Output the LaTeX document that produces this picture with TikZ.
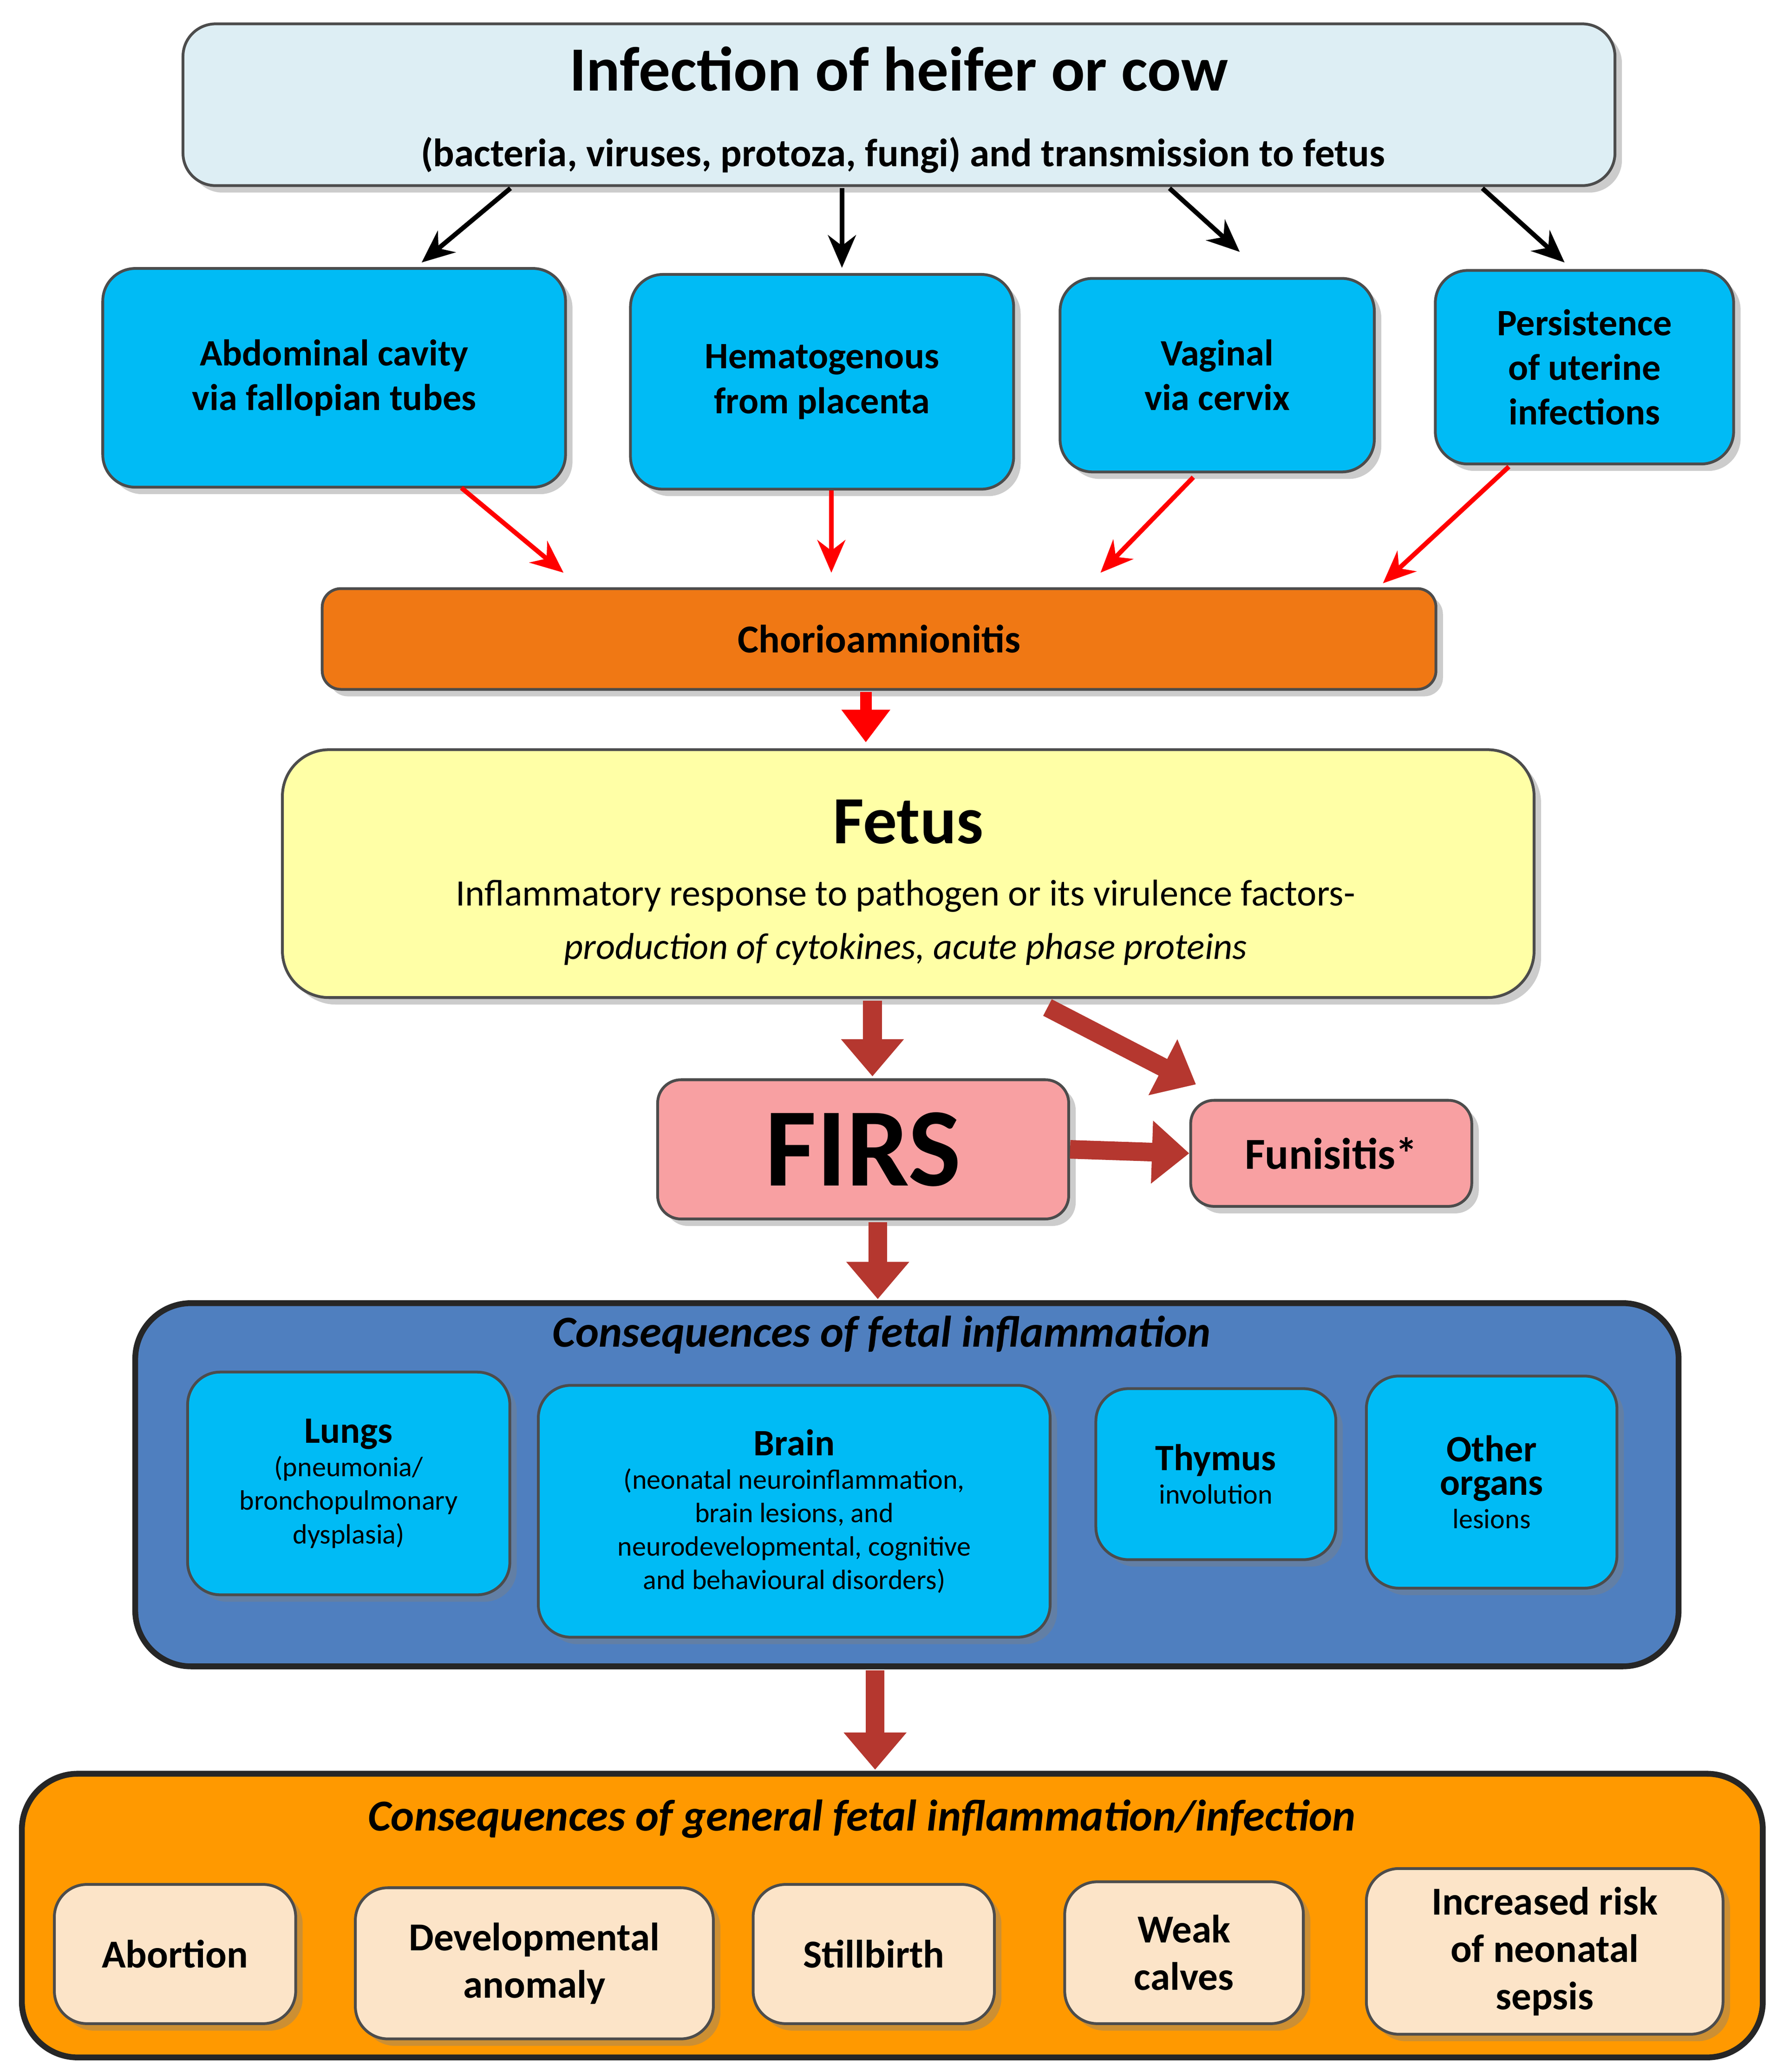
\documentclass[tikz,border=0pt]{standalone}
\usepackage{fontspec}
\setmainfont{Carlito}
\usetikzlibrary{arrows.meta,shadows}
\definecolor{topb}{HTML}{DDEEF4}
\definecolor{cyanb}{HTML}{00BBF5}
\definecolor{orb}{HTML}{F07814}
\definecolor{yelb}{HTML}{FFFFA6}
\definecolor{pinkb}{HTML}{F8A0A2}
\definecolor{darkr}{HTML}{B5372F}
\definecolor{contb}{HTML}{4F7FBF}
\definecolor{conto}{HTML}{FF9900}
\definecolor{peach}{HTML}{FCE4C8}
\newcommand{\fs}[1]{\fontsize{#1pt}{1.2\dimexpr#1pt\relax}\selectfont}
\tikzset{
 box/.style={draw=black!70,line width=1.2pt,rounded corners=14pt,drop shadow={opacity=0.4,shadow xshift=3pt,shadow yshift=-3pt},align=center,font=\bfseries},
 blk/.style={-{Stealth[length=14pt,width=12pt]},line width=2pt,black},
 redarr/.style={-{Stealth[length=14pt,width=12pt]},line width=2pt,red},
 fat/.style={-{Triangle[length=16pt,width=26pt]},line width=8pt,darkr},
}
\begin{document}
\begin{tikzpicture}[x=0.02cm,y=-0.02cm]
\useasboundingbox (0,0) rectangle (1340,1563);
% top
\node[box,fill=topb,minimum width=1080*0.02cm,minimum height=122*0.02cm] (top) at (678,79) {};
\node[font=\bfseries\fs{27}] (tt) at (678,52) {Infection of heifer or cow};
\node[font=\bfseries\fs{17}] (ts) at (681,117) {(bacteria, viruses, protoza, fungi) and transmission to fetus};
% four boxes
\node[box,fill=cyanb,minimum width=349*0.02cm,minimum height=165*0.02cm,font=\bfseries\fs{16}] (a) at (252,285) {Abdominal cavity\\via fallopian tubes};
\node[box,fill=cyanb,minimum width=289*0.02cm,minimum height=162*0.02cm,font=\bfseries\fs{16}] (b) at (620,288) {Hematogenous\\from placenta};
\node[box,fill=cyanb,minimum width=237*0.02cm,minimum height=146*0.02cm,font=\bfseries\fs{16}] (c) at (918,283) {Vaginal\\via cervix};
\node[box,fill=cyanb,minimum width=225*0.02cm,minimum height=146*0.02cm,font=\bfseries\fs{16}] (d) at (1195,277) {Persistence\\of uterine\\infections};
\coordinate (t1) at (385,142); \coordinate (e1) at (318,198);
\coordinate (t2) at (635,142); \coordinate (e2) at (635,202);
\coordinate (t3) at (882,142); \coordinate (e3) at (935,190);
\coordinate (t4) at (1118,142); \coordinate (e4) at (1180,198);
\draw[blk] (t1)--(e1); \draw[blk] (t2)--(e2); \draw[blk] (t3)--(e3); \draw[blk] (t4)--(e4);
% chorio
\node[box,fill=orb,rounded corners=8pt,minimum width=840*0.02cm,minimum height=76*0.02cm,font=\bfseries\fs{17}] (ch) at (663,482) {Chorioamnionitis};
\coordinate (r1) at (348,368); \coordinate (f1) at (425,432);
\coordinate (r2) at (627,370); \coordinate (f2) at (627,432);
\coordinate (r3) at (900,360); \coordinate (f3) at (830,432);
\coordinate (r4) at (1138,352); \coordinate (f4) at (1043,440);
\draw[redarr] (r1)--(f1); \draw[redarr] (r2)--(f2); \draw[redarr] (r3)--(f3); \draw[redarr] (r4)--(f4);
% fetus
\node[box,fill=yelb,rounded corners=20pt,minimum width=944*0.02cm,minimum height=187*0.02cm] (fe) at (685,659) {};
\node[font=\bfseries\fs{29}] (ft) at (685,620) {Fetus};
\node[font=\fs{16}] (fl1) at (683,676) {Inflammatory response to pathogen or its virulence factors-};
\node[font=\itshape\fs{16}] (fl2) at (683,716) {production of cytokines, acute phase proteins};
\coordinate (cs) at (653,522); \coordinate (ce) at (653,560);
\draw[-{Triangle[length=14pt,width=20pt]},line width=5pt,red] (cs)--(ce);
% FIRS
\node[box,fill=pinkb,rounded corners=10pt,minimum width=310*0.02cm,minimum height=105*0.02cm,font=\bfseries\fs{48}] (firs) at (651,867) {FIRS};
\node[box,fill=pinkb,rounded corners=10pt,minimum width=212*0.02cm,minimum height=80*0.02cm,font=\bfseries\fs{19}] (fun) at (1004,870) {Funisitis*};
\coordinate (p1) at (658,755); \coordinate (q1) at (658,812);
\coordinate (p2) at (790,760); \coordinate (q2) at (902,818);
\draw[fat] (p1)--(q1); \draw[fat] (p2)--(q2);
\draw[fat] (firs.east)--(fun.west);
% container 1
\node[draw=black!85,line width=2.5pt,fill=contb,rounded corners=24pt,minimum width=1164*0.02cm,minimum height=274*0.02cm] (c1) at (684,1120) {};
\node[font=\bfseries\itshape\fs{19}] (c1t) at (665,1007) {Consequences of fetal inflammation};
\coordinate (p3) at (662,922); \coordinate (q3) at (662,980);
\draw[fat] (p3)--(q3);
\node[box,fill=cyanb,minimum width=243*0.02cm,minimum height=168*0.02cm,font=\fs{12}] (lu) at (263,1119) {{\bfseries\fs{16}Lungs}\\(pneumonia/\\bronchopulmonary\\dysplasia)};
\node[box,fill=cyanb,minimum width=386*0.02cm,minimum height=190*0.02cm,font=\fs{12}] (br) at (599,1140) {{\bfseries\fs{16}Brain}\\(neonatal neuroinflammation,\\brain lesions, and\\neurodevelopmental, cognitive\\and behavioural disorders)};
\node[box,fill=cyanb,minimum width=181*0.02cm,minimum height=129*0.02cm,font=\fs{12}] (th) at (917,1112) {{\bfseries\fs{16}Thymus}\\involution};
\node[box,fill=cyanb,minimum width=189*0.02cm,minimum height=160*0.02cm,font=\fs{12}] (ot) at (1125,1118) {{\bfseries\fs{16}Other}\\{\bfseries\fs{16}organs}\\lesions};
% container 2
\node[draw=black!85,line width=2.5pt,fill=conto,rounded corners=24pt,minimum width=1313*0.02cm,minimum height=214*0.02cm] (c2) at (673,1445) {};
\node[font=\bfseries\itshape\fs{19}] (c2t) at (650,1372) {Consequences of general fetal inflammation/infection};
\coordinate (p4) at (660,1260); \coordinate (q4) at (660,1335);
\draw[fat] (p4)--(q4);
\tikzset{pb/.style={box,fill=peach,font=\bfseries\fs{17}}}
\node[pb,minimum width=182*0.02cm,minimum height=105*0.02cm] (ab) at (132,1474) {Abortion};
\node[pb,minimum width=270*0.02cm,minimum height=114*0.02cm] (dv) at (403,1481) {Developmental\\anomaly};
\node[pb,minimum width=182*0.02cm,minimum height=105*0.02cm] (sb) at (659,1474) {Stillbirth};
\node[pb,minimum width=180*0.02cm,minimum height=107*0.02cm] (wk) at (893,1473) {Weak\\calves};
\node[pb,minimum width=269*0.02cm,minimum height=125*0.02cm] (ir) at (1165,1472) {Increased risk\\of neonatal\\sepsis};
\end{tikzpicture}
\end{document}
